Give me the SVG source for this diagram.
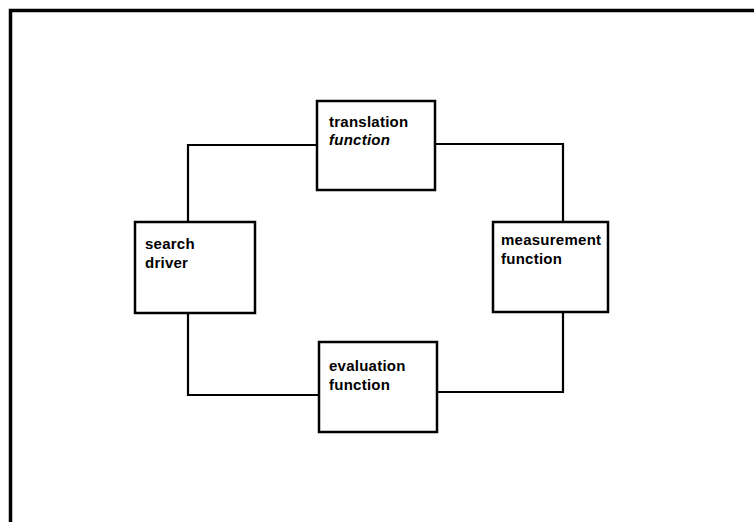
<svg xmlns="http://www.w3.org/2000/svg" width="754" height="522" viewBox="0 0 754 522">
  <style>
    .frame { fill: none; stroke: #000; stroke-width: 3.5; }
    .box { fill: #fff; stroke: #000; stroke-width: 2.5; }
    .wire { fill: none; stroke: #000; stroke-width: 2.2; }
    .lbl { font-family: "Liberation Sans", Arial, sans-serif; font-size: 15px; font-weight: bold; letter-spacing: 0.25px; fill: #000; }
    .it { font-style: italic; }
  </style>
  <rect width="754" height="522" fill="#fff"/>
  <!-- open frame: top and left edges -->
  <path class="frame" d="M10.5 522 V10.5 H754"/>
  <g id="connectors">
    <path class="wire" d="M188 222 V145 H317"/>
    <path class="wire" d="M436 144 H563 V222"/>
    <path class="wire" d="M563 312 V392 H437"/>
    <path class="wire" d="M319 395 H188 V313"/>
  </g>
  <g id="translation">
    <rect class="box" x="317" y="101" width="118" height="89"/>
    <text class="lbl" x="329" y="127">translation</text>
    <text class="lbl it" x="329" y="145">function</text>
  </g>
  <g id="search">
    <rect class="box" x="135" y="222" width="120" height="91"/>
    <text class="lbl" x="145" y="249">search</text>
    <text class="lbl" x="145" y="268">driver</text>
  </g>
  <g id="measurement">
    <rect class="box" x="493" y="222" width="115" height="90"/>
    <text class="lbl" x="501" y="245">measurement</text>
    <text class="lbl" x="501" y="264">function</text>
  </g>
  <g id="evaluation">
    <rect class="box" x="319" y="342" width="118" height="90"/>
    <text class="lbl" x="329" y="371">evaluation</text>
    <text class="lbl" x="329" y="390">function</text>
  </g>
</svg>
